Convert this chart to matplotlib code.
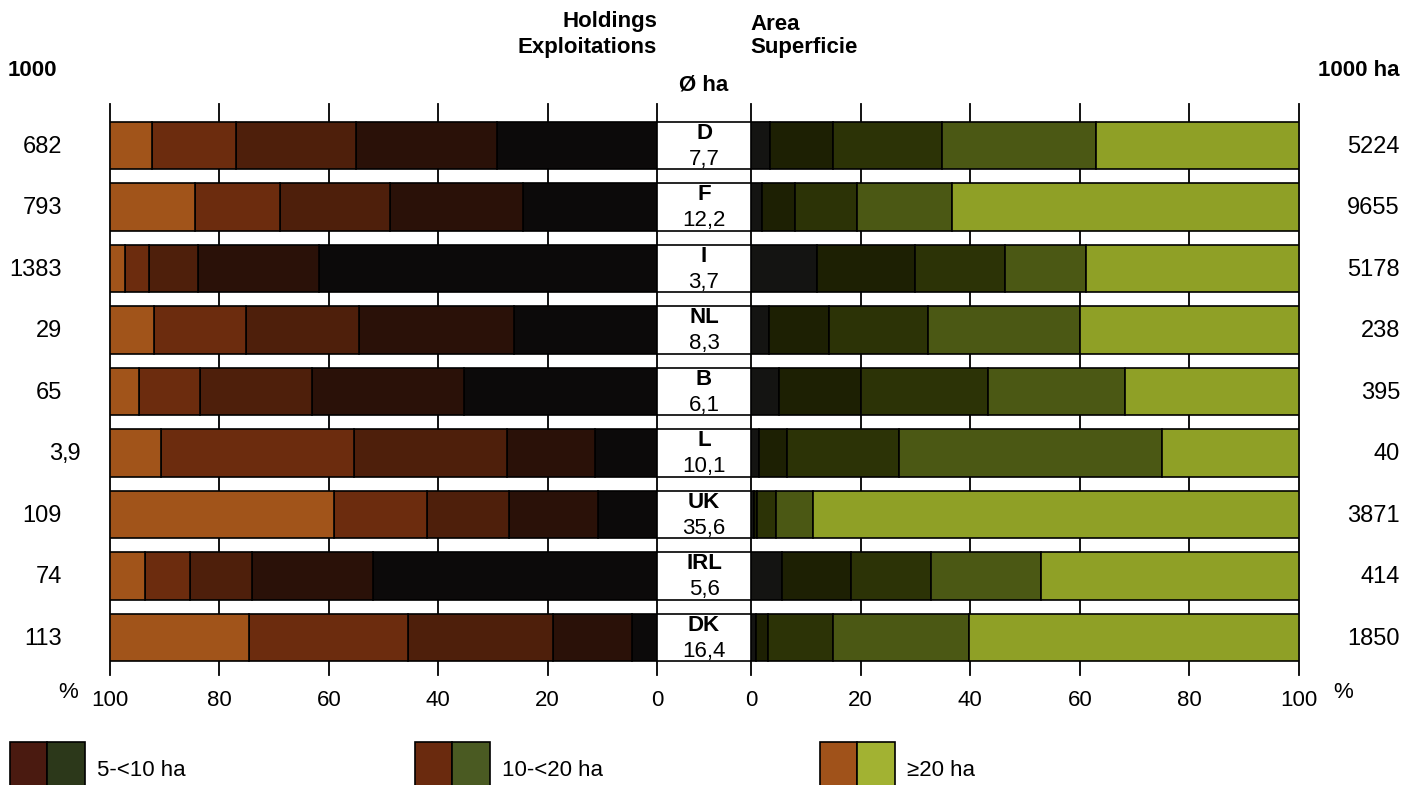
import matplotlib
matplotlib.use("Agg")
import matplotlib.pyplot as plt
from matplotlib.patches import Rectangle
from matplotlib.transforms import blended_transform_factory

plt.rcParams['font.family'] = ['Liberation Sans', 'DejaVu Sans']

# --- data (countries top to bottom) ---
countries = ["D", "F", "I", "NL", "B", "L", "UK", "IRL", "DK"]
avg_ha = ["7,7", "12,2", "3,7", "8,3", "6,1", "10,1", "35,6", "5,6", "16,4"]
holdings_1000 = ["682", "793", "1383", "29", "65", "3,9", "109", "74", "113"]
area_1000ha = ["5224", "9655", "5178", "238", "395", "40", "3871", "414", "1850"]

# holdings, % by size class (smallest class sits next to the centre)
hold_lt2 = [29.3, 24.5, 61.8, 26.1, 35.3, 11.3, 10.8, 51.9, 4.6]
hold_2_5 = [25.8, 24.3, 22.1, 28.3, 27.8, 16.1, 16.3, 22.1, 14.4]
hold_5_10 = [21.8, 20.1, 9.0, 20.7, 20.5, 28.0, 15.0, 11.3, 26.5]
hold_10_20 = [15.5, 15.6, 4.4, 16.8, 11.1, 35.3, 17.0, 8.3, 29.1]
hold_ge20 = [7.6, 15.5, 2.7, 8.1, 5.3, 9.3, 40.9, 6.4, 25.4]

# area, % by size class
area_lt2 = [3.4, 2.0, 12.1, 3.3, 5.2, 1.4, 0.5, 5.6, 1.0]
area_2_5 = [11.5, 6.0, 17.9, 10.9, 14.9, 5.2, 0.6, 12.6, 2.1]
area_5_10 = [19.9, 11.4, 16.4, 18.1, 23.1, 20.4, 3.5, 14.6, 11.9]
area_10_20 = [28.1, 17.2, 14.8, 27.7, 25.1, 48.0, 6.8, 20.2, 24.7]
area_ge20 = [37.1, 63.4, 38.8, 40.0, 31.7, 25.0, 88.6, 47.0, 60.3]

hold_colors = ["#0c0a0a", "#2a1108", "#4e1f0b", "#6c2c0e", "#a1541a"]
area_colors = ["#141412", "#1d2003", "#2c3306", "#4b5814", "#8fa026"]

legend_labels = ["5-<10 ha", "10-<20 ha", "\u226520 ha"]
legend_brown = ["#4a1a10", "#6a2a0e", "#a0521a"]
legend_green = ["#2c381a", "#4a5a22", "#a2b232"]

W, H = 1406, 785
fig = plt.figure(figsize=(W / 100, H / 100), dpi=100)
fig.patch.set_facecolor("white")

ax_bottom = 1 - 675 / H
ax_height = 571 / H
axL = fig.add_axes([110 / W, ax_bottom, 547 / W, ax_height])
axR = fig.add_axes([751 / W, ax_bottom, 548 / W, ax_height])
axC = fig.add_axes([657 / W, ax_bottom, 94 / W, ax_height])

rows = list(range(len(countries)))
bar_h = 0.78
fs = 16

for ax in (axL, axR, axC):
    ax.set_ylim(8.61, -0.675)
    for s in ax.spines.values():
        s.set_visible(False)
    ax.set_yticks([])
    ax.set_facecolor("none")

axL.set_xlim(100, 0)
axR.set_xlim(0, 100)
axC.set_xlim(0, 1)
axC.set_xticks([])

for ax, series, colors in (
    (axL, [hold_lt2, hold_2_5, hold_5_10, hold_10_20, hold_ge20], hold_colors),
    (axR, [area_lt2, area_2_5, area_5_10, area_10_20, area_ge20], area_colors),
):
    for x in range(0, 101, 20):
        ax.axvline(x, color="black", lw=1.3, zorder=1, clip_on=False)
    left = [0.0] * len(rows)
    for vals, col in zip(series, colors):
        ax.barh(rows, vals, left=left, height=bar_h, color=col,
                edgecolor="black", linewidth=1.2, zorder=2)
        left = [a + b for a, b in zip(left, vals)]
    ax.set_xticks(range(0, 101, 20))
    ax.set_xticklabels([str(v) for v in range(0, 101, 20)], fontsize=fs)
    ax.tick_params(axis="x", length=0, pad=11)

# centre boxes with country and average size
axC.barh(rows, [1] * len(rows), height=bar_h, color="white",
         edgecolor="black", linewidth=1.2, zorder=2)
for r, c, a in zip(rows, countries, avg_ha):
    axC.text(0.5, r - 0.2, c, ha="center", va="center", fontsize=fs,
             fontweight="bold", zorder=3)
    axC.text(0.5, r + 0.22, a, ha="center", va="center", fontsize=fs, zorder=3)

# side numbers
trL = blended_transform_factory(fig.transFigure, axL.transData)
side_fs = 17
for r, v in zip(rows, holdings_1000):
    if "," in v:
        ip, fp = v.split(",")
        fig.text(62 / W, r + 0.02, ip, ha="right", va="center", fontsize=side_fs, transform=trL)
        fig.text(62 / W, r + 0.02, "," + fp, ha="left", va="center", fontsize=side_fs, transform=trL)
    else:
        fig.text(62 / W, r + 0.02, v, ha="right", va="center", fontsize=side_fs, transform=trL)
for r, v in zip(rows, area_1000ha):
    fig.text(1400 / W, r + 0.02, v, ha="right", va="center", fontsize=side_fs, transform=trL)

# headers
def fy(py):
    return 1 - py / H

fig.text(8 / W, fy(70), "1000", ha="left", va="center", fontsize=fs, fontweight="bold")
fig.text(1400 / W, fy(70), "1000 ha", ha="right", va="center", fontsize=fs, fontweight="bold")
fig.text(657 / W, fy(22), "Holdings", ha="right", va="center", fontsize=fs, fontweight="bold")
fig.text(657 / W, fy(47), "Exploitations", ha="right", va="center", fontsize=fs, fontweight="bold")
fig.text(750 / W, fy(24), "Area", ha="left", va="center", fontsize=fs, fontweight="bold")
fig.text(750 / W, fy(48), "Superficie", ha="left", va="center", fontsize=fs, fontweight="bold")
fig.text(704 / W, fy(85), "\u00d8 ha", ha="center", va="center", fontsize=fs, fontweight="bold")
fig.text(78 / W, fy(693), "%", ha="right", va="center", fontsize=fs)
fig.text(1333 / W, fy(693), "%", ha="left", va="center", fontsize=fs)

# legend (cut off by the bottom edge, as in the print)
legend_x = [10, 415, 820]
for x0, lab, cb, cg in zip(legend_x, legend_labels, legend_brown, legend_green):
    fig.add_artist(Rectangle((x0 / W, fy(800)), 37 / W, 58 / H, transform=fig.transFigure,
                             facecolor=cb, edgecolor="black", lw=1.2))
    fig.add_artist(Rectangle(((x0 + 37) / W, fy(800)), 38 / W, 58 / H, transform=fig.transFigure,
                             facecolor=cg, edgecolor="black", lw=1.2))
    fig.text((x0 + 87) / W, fy(770), lab, ha="left", va="center", fontsize=fs)

fig.savefig("out.png", dpi=100)
